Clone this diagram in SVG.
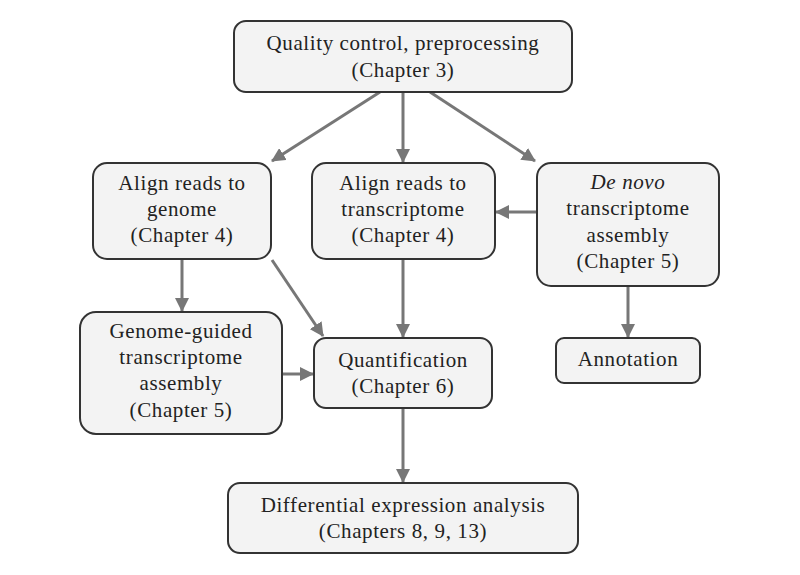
<svg xmlns="http://www.w3.org/2000/svg" width="800" height="575" viewBox="0 0 800 575">
<style>
.box{fill:#f3f3f3;stroke:#333;stroke-width:2}
text{font-family:"Liberation Serif","DejaVu Serif",serif;font-size:21px;letter-spacing:0.6px;fill:#222;text-anchor:middle}
.c line{stroke:#777;stroke-width:3}
</style>
<defs>
<marker id="ah" markerUnits="userSpaceOnUse" markerWidth="14" markerHeight="14" viewBox="0 0 14 14" refX="13" refY="7" orient="auto">
<path d="M0,0 L14,7 L0,14 Z" fill="#777"/>
</marker>
</defs>
<rect width="800" height="575" fill="#fff"/>
<g class="c">
<line x1="380" y1="92" x2="272" y2="161" marker-end="url(#ah)"/>
<line x1="403" y1="92" x2="403" y2="162" marker-end="url(#ah)"/>
<line x1="430" y1="92" x2="535" y2="161" marker-end="url(#ah)"/>
<line x1="536" y1="212" x2="496" y2="212" marker-end="url(#ah)"/>
<line x1="628" y1="286" x2="628" y2="337" marker-end="url(#ah)"/>
<line x1="182" y1="259" x2="182" y2="311" marker-end="url(#ah)"/>
<line x1="272" y1="260" x2="323" y2="336" marker-end="url(#ah)"/>
<line x1="403" y1="259" x2="403" y2="337" marker-end="url(#ah)"/>
<line x1="282" y1="374" x2="313" y2="374" marker-end="url(#ah)"/>
<line x1="403" y1="408" x2="403" y2="482" marker-end="url(#ah)"/>
</g>
<g id="qc"><rect class="box" x="234" y="21" width="338" height="71" rx="12"/>
<text x="403" y="50">Quality control, preprocessing</text><text x="403" y="77">(Chapter 3)</text></g>
<g id="genome"><rect class="box" x="93" y="163" width="178" height="96" rx="14"/>
<text x="182" y="190">Align reads to</text><text x="182" y="216">genome</text><text x="182" y="242">(Chapter 4)</text></g>
<g id="transcriptome"><rect class="box" x="312" y="163" width="183" height="96" rx="14"/>
<text x="403" y="190">Align reads to</text><text x="403" y="216">transcriptome</text><text x="403" y="242">(Chapter 4)</text></g>
<g id="denovo"><rect class="box" x="537" y="163" width="182" height="123" rx="14"/>
<text x="628" y="189" font-style="italic">De novo</text><text x="628" y="215">transcriptome</text><text x="628" y="242">assembly</text><text x="628" y="268">(Chapter 5)</text></g>
<g id="annotation"><rect class="box" x="556" y="338" width="144" height="45" rx="8"/>
<text x="628" y="366">Annotation</text></g>
<g id="guided"><rect class="box" x="80" y="312" width="202" height="122" rx="16"/>
<text x="181" y="338">Genome-guided</text><text x="181" y="364">transcriptome</text><text x="181" y="390">assembly</text><text x="181" y="417">(Chapter 5)</text></g>
<g id="quant"><rect class="box" x="314" y="338" width="178" height="70" rx="12"/>
<text x="403" y="367">Quantification</text><text x="403" y="393">(Chapter 6)</text></g>
<g id="de"><rect class="box" x="228" y="483" width="350" height="70" rx="12"/>
<text x="403" y="512">Differential expression analysis</text><text x="403" y="538">(Chapters 8, 9, 13)</text></g>
</svg>
